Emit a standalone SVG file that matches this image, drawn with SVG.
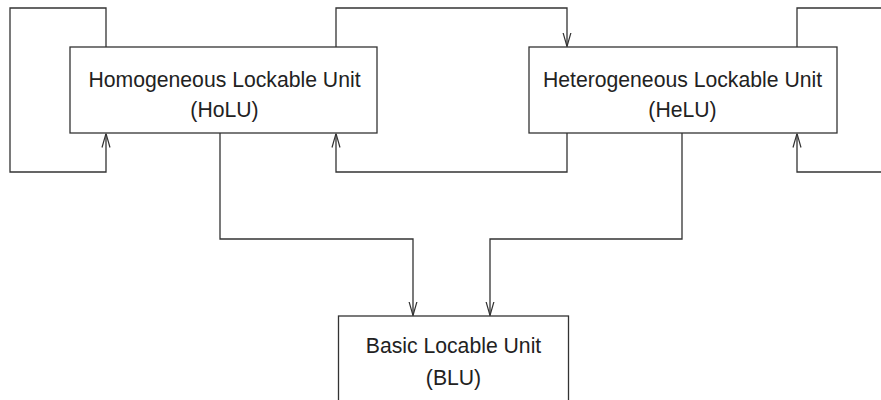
<svg xmlns="http://www.w3.org/2000/svg" width="881" height="400" viewBox="0 0 881 400">
  <defs>
    <marker id="arrow" viewBox="0 0 14 10" refX="14" refY="5" markerWidth="14" markerHeight="10" markerUnits="userSpaceOnUse" orient="auto">
      <path d="M0,1 L14,5 L0,9" fill="none" stroke="#333" stroke-width="1.2"/>
    </marker>
  </defs>
  <style>
    .box { fill: #fff; stroke: #333; stroke-width: 1.3; }
    .edge { fill: none; stroke: #333; stroke-width: 1.3; }
    .label { font-family: "Liberation Sans", Arial, sans-serif; font-size: 21.2px; fill: #222; text-anchor: middle; }
  </style>
  <rect width="881" height="400" fill="#fff"/>

  <g id="connectors">
    <!-- HoLU self loop -->
    <path class="edge" d="M106,47 V8 H10 V172 H106 V133.5" marker-end="url(#arrow)"/>
    <!-- HoLU to HeLU -->
    <path class="edge" d="M336,47 V8 H567 V46.5" marker-end="url(#arrow)"/>
    <!-- HeLU to HoLU -->
    <path class="edge" d="M567,133 V172 H336 V133.5" marker-end="url(#arrow)"/>
    <!-- HeLU self loop (runs off the right edge) -->
    <path class="edge" d="M797,47 V8 H885"/>
    <path class="edge" d="M885,172 H797 V133.5" marker-end="url(#arrow)"/>
    <!-- HoLU to BLU -->
    <path class="edge" d="M220,133 V239 H413 V315.5" marker-end="url(#arrow)"/>
    <!-- HeLU to BLU -->
    <path class="edge" d="M682,133 V239 H490 V315.5" marker-end="url(#arrow)"/>
  </g>

  <g id="holu">
    <rect class="box" x="70" y="47" width="307" height="86"/>
    <text class="label" x="224.5" y="87">Homogeneous Lockable Unit</text>
    <text class="label" x="224.5" y="117">(HoLU)</text>
  </g>

  <g id="helu">
    <rect class="box" x="529" y="47" width="308" height="86"/>
    <text class="label" x="682.5" y="87">Heterogeneous Lockable Unit</text>
    <text class="label" x="682.5" y="117">(HeLU)</text>
  </g>

  <g id="blu">
    <rect class="box" x="338.5" y="316" width="230" height="100"/>
    <text class="label" x="453.5" y="353">Basic Locable Unit</text>
    <text class="label" x="453.5" y="385">(BLU)</text>
  </g>
</svg>
